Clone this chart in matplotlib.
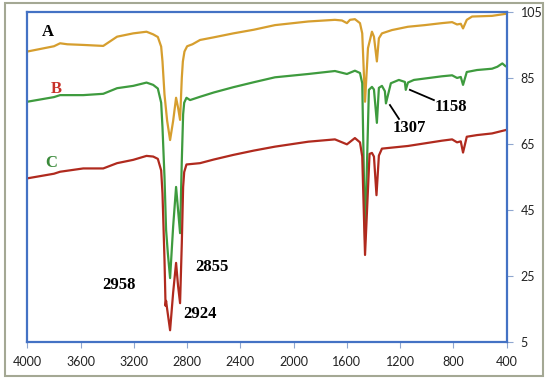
import matplotlib.pyplot as plt
from matplotlib.patches import Rectangle

# Spectrum A (wavenumber cm-1, transmittance %)
a_wn = [4000, 3800, 3754, 3700, 3580, 3430, 3326, 3205, 3105, 3055,
        3020, 2995, 2985, 2970, 2950, 2928, 2905, 2883, 2868, 2853,
        2840, 2832, 2820, 2800, 2760, 2703, 2600, 2453, 2300, 2140,
        1890, 1690, 1637, 1600, 1577, 1540, 1502, 1485, 1464, 1442,
        1412, 1397, 1375, 1360, 1337, 1262, 1142, 1015, 887, 810,
        773, 745, 728, 700, 660, 510, 410]
a_t = [93.0, 94.6, 95.5, 95.2, 95.0, 94.7, 97.5, 98.5, 99.0, 98.2,
       97.4, 94.5, 90, 80, 72, 66.2, 72, 79, 76, 72.3,
       85, 90, 93, 94.6, 95.2, 96.5, 97.3, 98.5, 99.6, 101.0,
       102.1, 102.6, 102.4, 101.6, 102.6, 102.8, 101.6, 98.5, 77.8, 94,
       99, 97.5, 90, 97, 98.5, 99.5, 100.5, 101, 101.6, 101.9,
       101.2, 101.4, 100, 102.6, 103.6, 103.8, 104.4]

# Spectrum B
b_wn = [4000, 3800, 3754, 3580, 3430, 3326, 3205, 3105, 3055, 3020,
        2995, 2985, 2970, 2958, 2945, 2928, 2905, 2883, 2868, 2853,
        2840, 2830, 2822, 2805, 2778, 2703, 2600, 2453, 2300, 2140,
        1890, 1690, 1600, 1540, 1502, 1485, 1464, 1435, 1412, 1397,
        1375, 1360, 1337, 1315, 1307, 1270, 1210, 1165, 1158, 1142,
        1097, 887, 810, 773, 745, 728, 700, 623, 510, 470,
        433, 410]
b_t = [77.8, 79.2, 79.8, 79.8, 80.2, 81.9, 82.6, 83.6, 82.9, 81.8,
       77.5, 70, 55, 39, 32, 24.4, 40, 52, 45, 38,
       60, 74, 77.5, 79, 78.3, 79.3, 80.6, 82.2, 83.7, 85.2,
       86.2, 87.1, 86.2, 87.2, 86.5, 83.4, 36, 81.4, 82.3, 81.5,
       71.4, 82, 82.6, 81, 77.3, 83.4, 84.4, 83.8, 81.4, 83.6,
       84.4, 85.5, 85.8, 85, 85.3, 82.9, 86.8, 87.4, 87.8, 88.4,
       89.4, 88.6]

# Spectrum C
c_wn = [4000, 3800, 3754, 3580, 3430, 3326, 3205, 3105, 3055, 3020,
        2995, 2985, 2970, 2962, 2958, 2950, 2928, 2905, 2883, 2868,
        2853, 2840, 2830, 2822, 2805, 2703, 2600, 2453, 2300, 2140,
        1890, 1690, 1600, 1540, 1502, 1485, 1464, 1430, 1412, 1397,
        1378, 1360, 1337, 1142, 887, 810, 773, 745, 728, 700,
        623, 510, 410]
c_t = [54.6, 56.0, 56.6, 57.6, 57.6, 59.2, 60.2, 61.4, 61.2, 60.5,
       57, 50, 30, 16, 17.5, 15, 8.6, 20, 29, 22,
       16.8, 35, 52, 56.5, 58.8, 59.2, 60.3, 61.7, 63.0, 64.2,
       65.7, 66.4, 64.9, 66.8, 65.5, 61.2, 31.4, 62, 62.3, 61.2,
       49.5, 61.5, 63.6, 64.4, 66, 66.4, 65.5, 65.8, 62.4, 67.2,
       67.7, 68.2, 69.2]

x_ticks = [4000, 3600, 3200, 2800, 2400, 2000, 1600, 1200, 800, 400]
y_ticks = [5, 25, 45, 65, 85, 105]

fig = plt.figure(figsize=(5.5, 3.84), dpi=100)
ax = fig.add_axes([0.0497, 0.109, 0.8716, 0.860])

# outer grey frame
fig.patches.append(Rectangle((0.009, 0.021), 0.978, 0.970, transform=fig.transFigure,
                             fill=False, edgecolor='#A4A894', linewidth=1.5))

ax.plot(a_wn, a_t, color='#D69E2E', linewidth=1.6)
ax.plot(b_wn, b_t, color='#3E9B3E', linewidth=1.6)
ax.plot(c_wn, c_t, color='#B02A1E', linewidth=1.6)

ax.set_xlim(4000, 400)
ax.set_ylim(5, 105)
ax.set_xticks(x_ticks)
ax.set_yticks(y_ticks)

for s in ax.spines.values():
    s.set_color('#4472C4')
    s.set_linewidth(1.6)

ax.yaxis.tick_right()
ax.tick_params(axis='both', direction='out', length=4, color='#8FA6CF',
               labelsize=9, labelcolor='#222222', pad=6)
for lab in ax.get_xticklabels() + ax.get_yticklabels():
    lab.set_family('Lato')

# curve letters and peak labels
serif = dict(family='Liberation Serif', fontweight='bold', fontsize=12, ha='center', va='center')
ax.text(3848, 98.9, 'A', color='black', **serif)
ax.text(3784, 81.7, 'B', color='#C8322A', **serif)
ax.text(3822, 59.1, 'C', color='#3A8A3A', **serif)
ax.text(3315, 22.3, '2958', color='black', **serif)
ax.text(2703, 13.6, '2924', color='black', **serif)
ax.text(2617, 27.9, '2855', color='black', **serif)
ax.text(1134, 69.7, '1307', color='black', **serif)
ax.text(820, 76.1, '1158', color='black', **serif)
ax.plot([1277, 1209], [76.8, 72.6], color='black', linewidth=1.3)
ax.plot([1127, 947], [81.4, 78.3], color='black', linewidth=1.3)

plt.savefig('out.png', dpi=100)
plt.close(fig)
